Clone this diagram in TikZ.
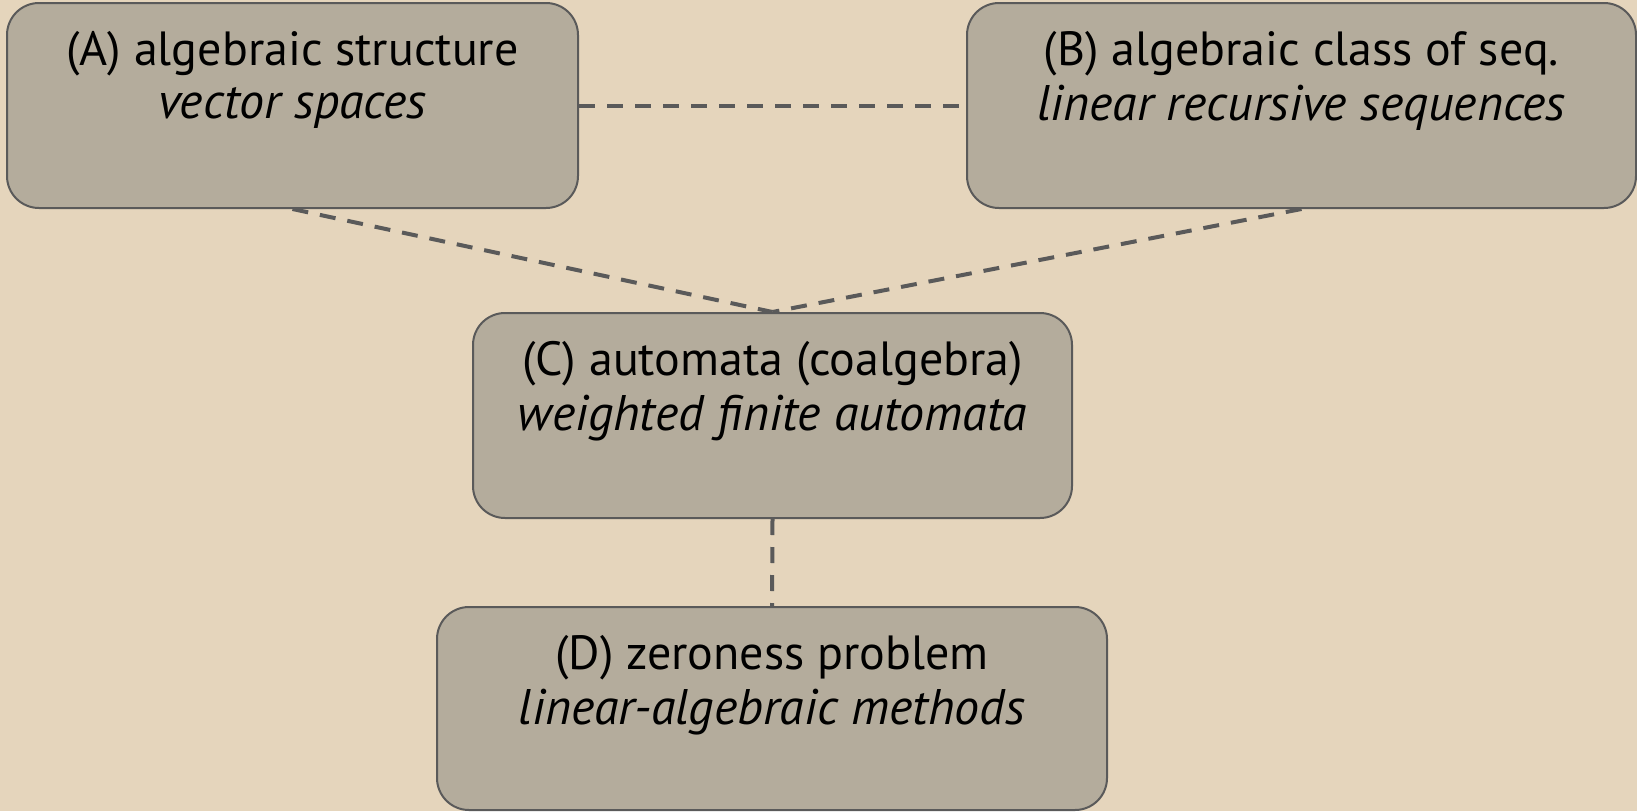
\documentclass[tikz,border=0pt]{standalone}
\usepackage{fontspec}
\setmainfont{PT Sans}
\definecolor{bg}{HTML}{E5D5BC}
\definecolor{boxfill}{HTML}{B4AC9C}
\definecolor{edgec}{HTML}{5A5A5A}
\begin{document}
\begin{tikzpicture}[x=1pt,y=-1pt,
  box/.style={draw=edgec, line width=2pt, fill=boxfill, rounded corners=32pt, inner sep=0pt},
  link/.style={draw=edgec, line width=4pt, dash pattern=on 16pt off 12pt},
  lbl/.style={font=\fontsize{48}{56}\selectfont, text=black, anchor=center, inner sep=0pt},
  lbli/.style={lbl, font=\fontsize{50}{58}\selectfont\itshape}]
\fill[bg] (0,0) rectangle (1637,811);
\useasboundingbox (0,0) rectangle (1637,811);
\node[box, minimum width=571pt, minimum height=205pt] (A) at (292.5,105.5) {};
\node[box, minimum width=669pt, minimum height=205pt] (B) at (1301.5,105.5) {};
\node[box, minimum width=599pt, minimum height=205pt] (C) at (772.5,415.5) {};
\node[box, minimum width=670pt, minimum height=203pt] (D) at (772,708.5) {};
\draw[link] (A.east) -- (B.west);
\draw[link] (A.south) -- (C.north);
\draw[link] (B.south) -- (C.north);
\draw[link] (C.south) -- (D.north);
\node[lbl] (At) at (292.5,54) {(A) algebraic structure};
\node[lbli] (Ai) at (292.5,108) {vector spaces};
\node[lbl] (Bt) at (1301.5,54) {(B) algebraic class of seq.};
\node[lbli] (Bi) at (1301.5,108) {linear recursive sequences};
\node[lbl] (Ct) at (772.5,364) {(C) automata (coalgebra)};
\node[lbli] (Ci) at (772.5,418) {weighted finite automata};
\node[lbl] (Dt) at (772,658) {(D) zeroness problem};
\node[lbli] (Di) at (772,712) {linear-algebraic methods};
\end{tikzpicture}
\end{document}
